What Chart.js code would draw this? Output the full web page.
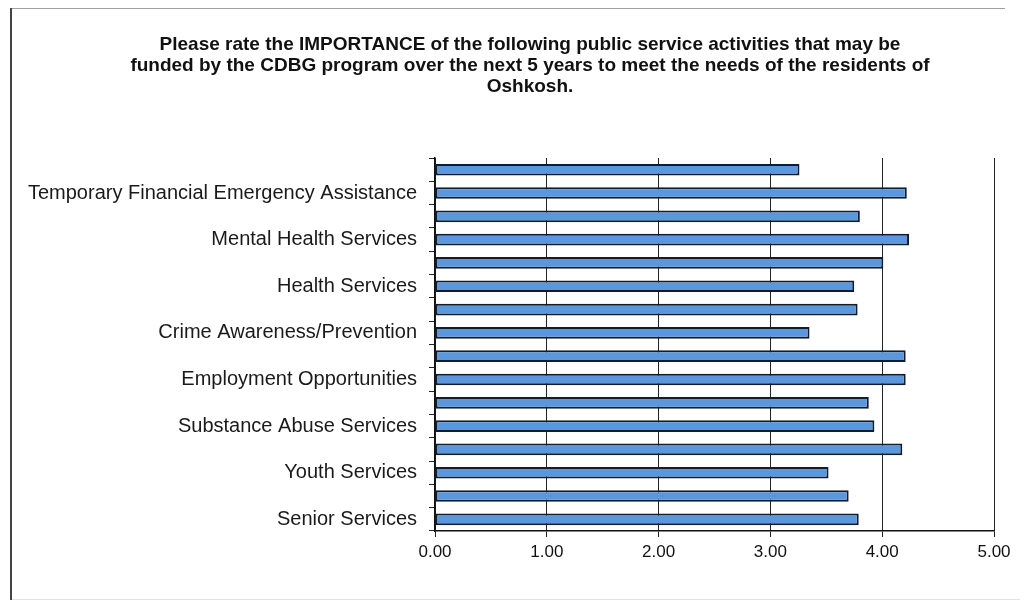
<!DOCTYPE html>
<html>
<head>
<meta charset="utf-8">
<title>Public Service Activities - Importance</title>
<script src="https://cdn.jsdelivr.net/npm/chart.js@4/dist/chart.umd.min.js"></script>
<style>
  html, body { margin: 0; padding: 0; background: #fff; }
  #wrap { width: 1025px; height: 605px; }
</style>
</head>
<body>
<div id="wrap"><canvas id="importanceChart" width="1025" height="605"></canvas></div>
<script>
// only every other activity carries a printed label
const activities = [
  "", "Temporary Financial Emergency Assistance",
  "", "Mental Health Services",
  "", "Health Services",
  "", "Crime Awareness/Prevention",
  "", "Employment Opportunities",
  "", "Substance Abuse Services",
  "", "Youth Services",
  "", "Senior Services"
];
const importance = [3.26, 4.22, 3.80, 4.24, 4.01, 3.75, 3.78, 3.35, 4.21, 4.21, 3.88, 3.93, 4.18, 3.52, 3.70, 3.79];
const scoreTicks = [0, 1, 2, 3, 4, 5];

const titleLines = [
  "Please rate the IMPORTANCE of the following public service activities that may be",
  "funded by the CDBG program over the next 5 years to meet the needs of the residents of",
  "Oshkosh."
];

// white page with the thin frame around the whole chart
const framePlugin = {
  id: "frame",
  beforeDraw(chart) {
    const ctx = chart.ctx;
    ctx.save();
    ctx.fillStyle = "#ffffff";
    ctx.fillRect(0, 0, chart.width, chart.height);
    ctx.strokeStyle = "#a0a0a0";
    ctx.lineWidth = 1;
    ctx.beginPath();
    ctx.moveTo(11, 8.5);
    ctx.lineTo(1005, 8.5);
    ctx.stroke();
    ctx.strokeStyle = "#444";
    ctx.lineWidth = 2;
    ctx.beginPath();
    ctx.moveTo(11, 8);
    ctx.lineTo(11, 600);
    ctx.stroke();
    ctx.strokeStyle = "#e2e2e2";
    ctx.lineWidth = 1;
    ctx.beginPath();
    ctx.moveTo(12, 599.5);
    ctx.lineTo(1020, 599.5);
    ctx.stroke();
    ctx.restore();
  }
};

const ctx = document.getElementById("importanceChart").getContext("2d");
new Chart(ctx, {
  type: "bar",
  data: {
    labels: activities,
    datasets: [{
      label: "Importance",
      data: importance,
      backgroundColor: "#5a97dc",
      borderColor: "#111c2c",
      borderWidth: 2,
      borderSkipped: false,
      barPercentage: 0.5,
      categoryPercentage: 1
    }]
  },
  plugins: [framePlugin],
  options: {
    responsive: false,
    animation: false,
    indexAxis: "y",
    // uneven side padding keeps the title centred a little right of the page middle
    layout: { padding: { left: 12, right: -23, top: 0, bottom: 0 } },
    plugins: {
      legend: { display: false },
      tooltip: { enabled: false },
      title: {
        display: true,
        text: titleLines,
        color: "#111",
        font: { family: "Liberation Sans, Arial, sans-serif", size: 19, weight: "bold", lineHeight: 1.08 },
        padding: { top: 35, bottom: 61.5 }
      }
    },
    scales: {
      x: {
        min: 0,
        max: 5,
        afterBuildTicks(scale) {
          scale.ticks = scoreTicks.map(v => ({ value: v }));
        },
        afterFit(scale) {
          scale.paddingRight = 31;
          scale.height = 74;
        },
        grid: { color: "#222", lineWidth: 1, tickLength: 6 },
        border: { color: "#111", width: 1.5 },
        ticks: {
          color: "#111",
          padding: 5,
          font: { family: "Liberation Sans, Arial, sans-serif", size: 17 },
          callback: v => Number(v).toFixed(2)
        }
      },
      y: {
        afterFit(scale) {
          scale.width = 423;
        },
        grid: { drawOnChartArea: false, color: "#222", tickLength: 6 },
        border: { color: "#111", width: 1.5 },
        ticks: {
          color: "#1a1a1a",
          padding: 12,
          autoSkip: false,
          font: { family: "Liberation Sans, Arial, sans-serif", size: 20 }
        }
      }
    }
  }
});
</script>
</body>
</html>
